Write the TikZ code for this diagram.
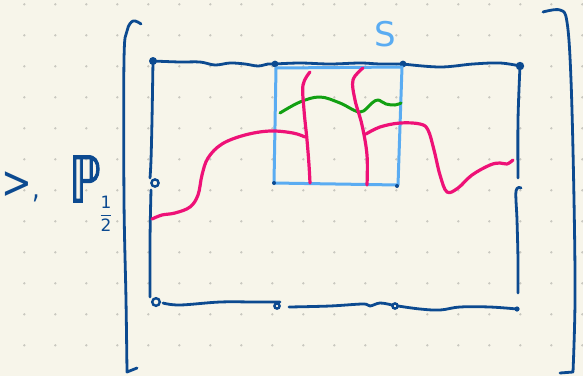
\documentclass[tikz,border=0pt]{standalone}
\usepackage{amsmath,amssymb}
\usepackage{fontspec}
\newfontfamily\handfont{DejaVu Sans}
\newfontfamily\handbold[FakeBold=2]{DejaVu Sans}
\definecolor{bgc}{HTML}{F7F5EA}
\definecolor{gridc}{HTML}{C9C8C0}
\definecolor{ink}{HTML}{0C4A90}
\definecolor{sky}{HTML}{5AACF2}
\definecolor{pinkc}{HTML}{EE1177}
\definecolor{greenc}{HTML}{12A012}
\tikzset{
  inkline/.style={draw=ink, line width=2.8pt, line cap=round, line join=round},
  skyline/.style={draw=sky, line width=3pt, line cap=round, line join=round},
  pinkline/.style={draw=pinkc, line width=3.2pt, line cap=round, line join=round},
  greenline/.style={draw=greenc, line width=3pt, line cap=round, line join=round},
  inkdot/.style={fill=ink},
  inkloop/.style={draw=ink, line width=2.4pt},
  hw/.style={text=ink, inner sep=0pt}
}
\begin{document}
\begin{tikzpicture}[x=1pt,y=-1pt]
\fill[bgc] (0,0) rectangle (583,376);
\useasboundingbox (0,0) rectangle (583,376);
% dot grid
\foreach \i in {0,...,18}{
  \foreach \j in {0,...,11}{
    \fill[gridc] ({24.3+31*\i},{4.3+31*\j}) circle (1.3);
  }
}
% brackets
\draw[inkline] plot[smooth, tension=0.6] coordinates {(141,24) (133,21) (127,31) (124,60) (124,200) (126,300) (127,372)} -- (137,368);
\draw[inkline] plot[smooth, tension=0.6] coordinates {(543,12) (560,10) (567,22) (571,80) (574,200) (575,300) (573,372)} -- (560,373);
% outer rectangle: top edge
\draw[inkline] plot[smooth, tension=0.6] coordinates {(153,61) (180,62) (200,62) (215,65) (230,63) (245,64) (258,66) (268,64) (275,64)};
\draw[inkline] plot[smooth, tension=0.6] coordinates {(275,64) (300,63) (330,64) (360,63) (380,64) (403,64)};
\draw[inkline] plot[smooth, tension=0.6] coordinates {(403,64) (440,67) (473,64) (500,63) (520,66)};
% left edge
\draw[inkline] plot[smooth, tension=0.6] coordinates {(153,61) (152,120) (151,160) (150,178)};
\draw[inkloop] (155,183) circle (3.6);
\draw[inkline] plot[smooth, tension=0.6] coordinates {(151,190) (150,240) (150,297)};
\draw[inkloop] (156,302) circle (3.8);
% bottom edge
\draw[inkline] plot[smooth, tension=0.6] coordinates {(163,303) (180,305) (220,302) (255,302) (280,302)};
\draw[inkloop] (277,306) circle (2.6);
\draw[inkline] plot[smooth, tension=0.6] coordinates {(289,307) (330,306) (363,304) (370,306) (380,303) (392,305)};
\draw[inkloop] (395,306) circle (2.6);
\draw[inkline] plot[smooth, tension=0.6] coordinates {(398,306) (420,309) (440,310) (460,307) (490,307) (517,309)};
% right edge
\draw[inkline] plot[smooth, tension=0.6] coordinates {(520,66) (518,120) (518,178)};
\draw[inkline] plot[smooth, tension=0.6] coordinates {(521,188) (516,191) (517,220) (518,260) (518,293)};
% corner dots
\fill[inkdot] (153,61) circle (4);
\fill[inkdot] (275,64) circle (3.4);
\fill[inkdot] (403,64) circle (3.4);
\fill[inkdot] (520,66) circle (4.2);
\fill[inkdot] (517,309) circle (2.6);
% light blue square S
\draw[skyline] (276,68) -- (402,67) -- (398,185) -- (274,183) -- cycle;
\fill[inkdot] (274,183) circle (2);
\fill[inkdot] (397,186) circle (2);
\node[text=sky, font=\fontsize{34}{34}\selectfont\handfont, inner sep=0pt] (S) at (385,34) {S};
% green curve
\draw[greenline] plot[smooth, tension=0.6] coordinates {(280,113) (300,102) (320,97) (340,103) (360,112) (372,103) (378,100) (386,104) (395,105) (401,103)};
% pink curves
\draw[pinkline] plot[smooth, tension=0.6] coordinates {(152,219) (162,215) (175,213) (190,207) (198,195) (202,175) (208,158) (222,144) (245,135) (270,131) (293,133) (305,137)};
\draw[pinkline] plot[smooth, tension=0.6] coordinates {(310,72) (303,85) (304,110) (307,140) (309,165) (310,183)};
\draw[pinkline] plot[smooth, tension=0.6] coordinates {(363,68) (353,80) (355,100) (362,125) (367,155) (367,185)};
\draw[pinkline] plot[smooth, tension=0.6] coordinates {(366,134) (380,127) (400,123) (420,124) (428,130) (434,150) (440,175) (447,192) (458,188) (472,175) (490,165) (500,163) (507,164) (513,160)};
% left text
\node[hw, font=\fontsize{46}{46}\selectfont\handfont, xscale=0.8] (geq) at (21,187) {>\fontsize{30}{30}\selectfont,};
\node[hw, font=\fontsize{64}{64}\selectfont\handbold, xscale=0.7] (P) at (85,179) {ℙ};
\node[hw, font=\fontsize{17}{17}\selectfont\handfont] (half) at (106,214) {$\dfrac{\text{1}}{\text{2}}$};
\end{tikzpicture}
\end{document}
